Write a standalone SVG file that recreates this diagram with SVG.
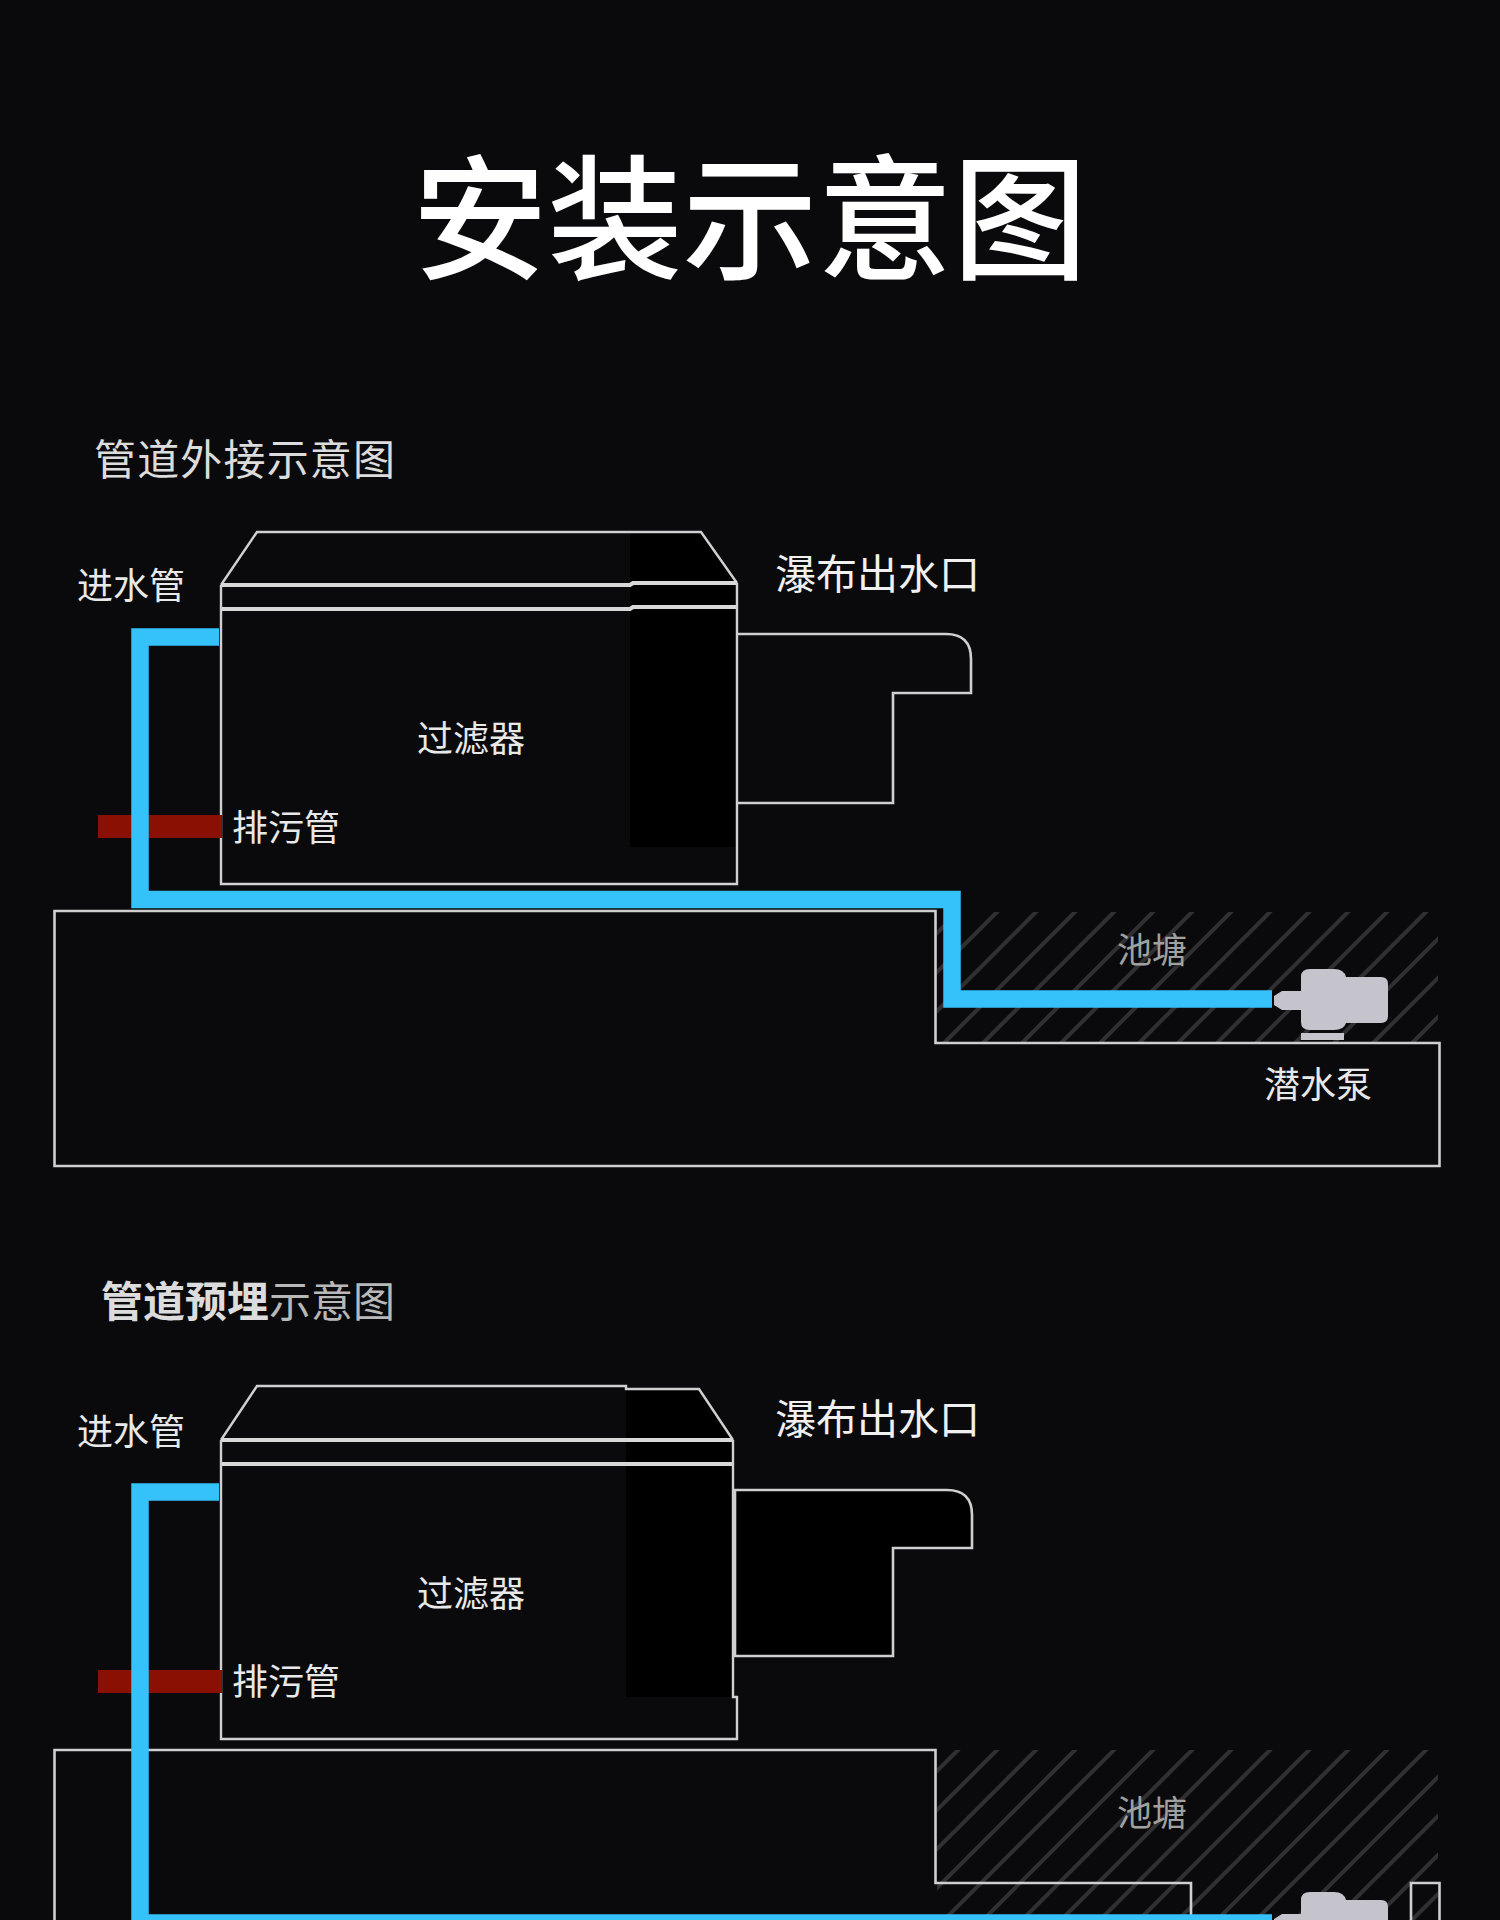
<svg xmlns="http://www.w3.org/2000/svg" width="1500" height="1920" viewBox="0 0 1500 1920">
<style>
text{font-family:"Noto Sans CJK SC","Noto Sans",sans-serif;fill:#e8e8e8}
.lb{font-size:36px}
.wf{font-size:41px;fill:#f0f0f0}
.sub{font-size:42px;fill:#dcdcdc}
.pond{font-size:35px;fill:#a0a0a0}
.ln{fill:none;stroke:#cfcfcf;stroke-width:2.6}
.thin{fill:none;stroke:#d0d0d0;stroke-width:2.4}
.heavy{fill:none;stroke:#d8d8d8;stroke-width:4}
.blue{fill:none;stroke:#35c2fb;stroke-width:17.5;stroke-linejoin:miter}
.red{fill:#8a1004}
.pump{fill:#c5c3cb}
.shade{fill:#000}
</style>
<defs>
<pattern id="h1" patternUnits="userSpaceOnUse" width="39" height="39" patternTransform="translate(37,0)"><path d="M-5,5L5,-5M0,39L39,0M34,44L44,34" stroke="#303032" stroke-width="4" fill="none"/></pattern>
<pattern id="h2" patternUnits="userSpaceOnUse" width="39" height="39" patternTransform="translate(17,0)"><path d="M-5,5L5,-5M0,39L39,0M34,44L44,34" stroke="#303032" stroke-width="4" fill="none"/></pattern>
<g id="pumpShape"><path class="pump" d="M1310,969H1334Q1344,969 1346,977H1381Q1388,977 1388,984V1016Q1388,1023 1381,1023H1346Q1344,1030 1334,1030H1310Q1301,1030 1301,1022V1010H1282L1274,1005V996L1282,991H1301V977Q1301,969 1310,969Z"/><rect class="pump" x="1301" y="1033" width="43" height="7"/></g>
</defs>
<rect width="1500" height="1920" fill="#0a0a0c"/>
<text id="title" x="750" y="269" text-anchor="middle" font-size="135" font-weight="500" style="fill:#fff">安装示意图</text>

<g id="section-1">
<text id="sub1" class="sub" x="94" y="475" textLength="301">管道外接示意图</text>
<g id="pond-1"><rect x="937" y="912" width="501" height="130" fill="url(#h1)"/><text class="pond" x="1117" y="963">池塘</text></g>
<g id="ground-1"><path class="ln" d="M54.5,911H935.5V1043H1439.5V1166H54.5Z"/></g>
<g id="filter-1">
<path class="shade" d="M630,532H701L735,583V847H630Z"/>
<path class="thin" d="M221,585L257,532H701L737,583"/>
<path class="heavy" d="M221,585H630L633,583H737M221,609H630L633,607H737"/>
<path class="thin" d="M221,585V884H737V583"/>
<text class="lb" x="417" y="752">过滤器</text>
</g>
<g id="outlet-1"><path class="ln" d="M737,634H946Q971,634 971,659V693H893V803H737"/><text class="wf" x="775" y="589">瀑布出水口</text></g>
<g id="pump-1"><use href="#pumpShape"/><text class="lb" x="1264" y="1098">潜水泵</text></g>
<text id="in-1" class="lb" x="77" y="599">进水管</text>
<text id="drain-1" class="lb" x="232" y="841">排污管</text>
</g>

<g id="section-2">
<text id="sub2" class="sub" x="101" y="1317"><tspan font-weight="700">管道预埋</tspan><tspan style="fill:#b8b8b8">示意图</tspan></text>
<g id="pond-2"><rect x="937" y="1750" width="501" height="170" fill="url(#h2)"/><text class="pond" x="1117" y="1826">池塘</text></g>
<g id="ground-2"><path class="ln" d="M54.5,1920V1750H935.5V1883H1191V1920M1411,1920V1883H1439.5V1920"/></g>
<g id="filter-2">
<path class="shade" d="M626,1389H699L733,1440V1697H626Z"/>
<path class="thin" d="M221,1440L257,1386H626V1389H699L733,1440"/>
<path class="heavy" d="M221,1440H733M221,1464H733"/>
<path class="thin" d="M221,1440V1739H737V1697H733V1440"/>
<text class="lb" x="417" y="1607">过滤器</text>
</g>
<g id="outlet-2"><path class="ln" d="M735,1490H947Q972,1490 972,1515V1548H893V1656H735Z" style="fill:#000"/><text class="wf" x="775" y="1434">瀑布出水口</text></g>
<g id="pump-2"><use href="#pumpShape" y="923"/></g>
<text id="in-2" class="lb" x="77" y="1445">进水管</text>
<text id="drain-2" class="lb" x="232" y="1695">排污管</text>
</g>

<g id="connectors">
<rect class="red" x="98" y="815" width="124" height="23"/>
<rect class="red" x="98" y="1670" width="124" height="23"/>
<path class="blue" d="M219,637H140V899.5H952V999H1272"/>
<path class="blue" d="M219,1492H140V1923H1272"/>
</g>
</svg>
